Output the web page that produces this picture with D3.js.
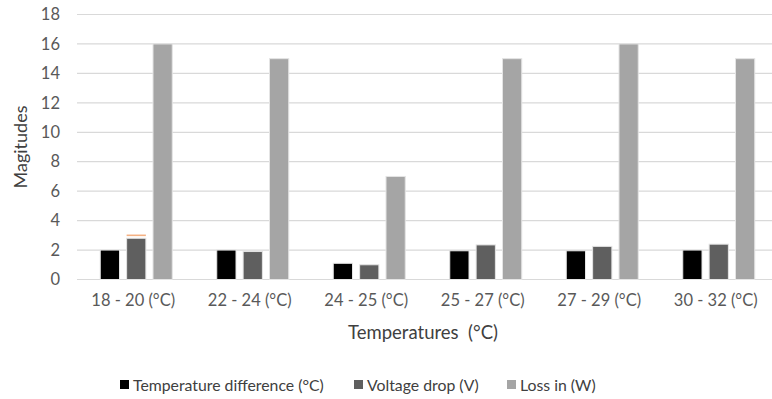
<!DOCTYPE html>
<html>
<head>
<meta charset="utf-8">
<script src="https://cdn.jsdelivr.net/npm/d3@7"></script>
<style>
  body { margin: 0; background: #fff; }
  text { font-family: Lato, "Open Sans", sans-serif; }
</style>
</head>
<body>
<svg id="chart" width="772" height="399"></svg>
<script>
// categories and series
const categories = ["18 - 20 (°C)", "22 - 24 (°C)", "24 - 25 (°C)", "25 - 27 (°C)", "27 - 29 (°C)", "30 - 32 (°C)"]
const seriesNames = ["Temperature difference (°C)", "Voltage drop (V)", "Loss in (W)"]
const tempDiff = [2, 2, 1.1, 1.95, 1.95, 2]
const voltageDrop = [2.8, 1.9, 1.0, 2.35, 2.25, 2.4]
const lossIn = [16, 15, 7, 15, 16, 15]
// small stray marker seen above the first voltage bar
const markerValues = [3, null, null, null, null, null]
const yTicks = [0, 2, 4, 6, 8, 10, 12, 14, 16, 18]

const colors = ["#000000", "#5f5f5f", "#a5a5a5"]
const series = [tempDiff, voltageDrop, lossIn]

const svg = d3.select("#chart")
const margin = { left: 78, right: -5, top: 14.5, bottom: 119 }
const width = 772, height = 399

const x = d3.scaleBand()
  .domain(categories)
  .range([margin.left, width - margin.right])

const inner = d3.scaleBand()
  .domain(d3.range(series.length))
  .range([-36, 36])
  .paddingInner(0.27)

const y = d3.scaleLinear()
  .domain([0, 18])
  .range([height - margin.bottom - 0.5, margin.top])

// gridlines
svg.append("g")
  .attr("id", "grid")
  .selectAll("line")
  .data(yTicks)
  .enter().append("line")
    .attr("x1", margin.left - 1)
    .attr("x2", width)
    .attr("y1", d => y(d))
    .attr("y2", d => y(d))
    .attr("stroke", "#d9d9d9")
    .attr("stroke-width", 1.2)

// y tick labels
svg.append("g")
  .attr("id", "y-labels")
  .selectAll("text")
  .data(yTicks)
  .enter().append("text")
    .attr("x", 60)
    .attr("y", d => y(d))
    .attr("dy", "0.35em")
    .attr("text-anchor", "end")
    .attr("fill", "#595959")
    .style("font-size", "16.5px")
    .text(d => d)

// bars
const groups = svg.append("g").attr("id", "bars")
  .selectAll("g")
  .data(categories)
  .enter().append("g")
    .attr("transform", d => `translate(${x(d) + x.bandwidth() / 2},0)`)

groups.selectAll("rect")
  .data((d, i) => series.map((s, k) => ({ k, v: s[i] })))
  .enter().append("rect")
    .attr("x", d => inner(d.k))
    .attr("width", inner.bandwidth())
    .attr("y", d => y(d.v))
    .attr("height", d => y(0) - y(d.v))
    .attr("fill", d => colors[d.k])
    .attr("stroke", "#e4e4e4")
    .attr("stroke-width", 1)

// orange marker
groups.filter((d, i) => markerValues[i] != null)
  .append("line")
    .attr("x1", inner(1))
    .attr("x2", inner(1) + inner.bandwidth())
    .attr("y1", d => y(markerValues[categories.indexOf(d)]))
    .attr("y2", d => y(markerValues[categories.indexOf(d)]))
    .attr("stroke", "#f4b183")
    .attr("stroke-width", 1.6)

// x labels
svg.append("g")
  .attr("id", "x-labels")
  .selectAll("text")
  .data(categories)
  .enter().append("text")
    .attr("x", d => x(d) + x.bandwidth() / 2 - 3)
    .attr("y", 306)
    .attr("text-anchor", "middle")
    .attr("fill", "#595959")
    .style("font-size", "16.5px")
    .text(d => d)

// axis titles
svg.append("text")
  .attr("x", 423)
  .attr("y", 339)
  .attr("text-anchor", "middle")
  .attr("fill", "#404040")
  .style("font-size", "18.5px")
  .style("white-space", "pre")
  .text("Temperatures  (°C)")

svg.append("text")
  .attr("transform", "translate(27,147) rotate(-90)")
  .attr("text-anchor", "middle")
  .attr("fill", "#404040")
  .style("font-size", "18px")
  .text("Magitudes")

// legend
const legendX = [120, 354, 507]
const legend = svg.append("g").attr("id", "legend")
  .selectAll("g")
  .data(seriesNames)
  .enter().append("g")
    .attr("transform", (d, i) => `translate(${legendX[i]},380)`)

legend.append("rect")
  .attr("width", 9)
  .attr("height", 9)
  .attr("fill", (d, i) => colors[i])

legend.append("text")
  .attr("x", 13)
  .attr("y", 5)
  .attr("dy", "0.35em")
  .attr("fill", "#404040")
  .style("font-size", "15.8px")
  .text(d => d)
</script>
</body>
</html>
